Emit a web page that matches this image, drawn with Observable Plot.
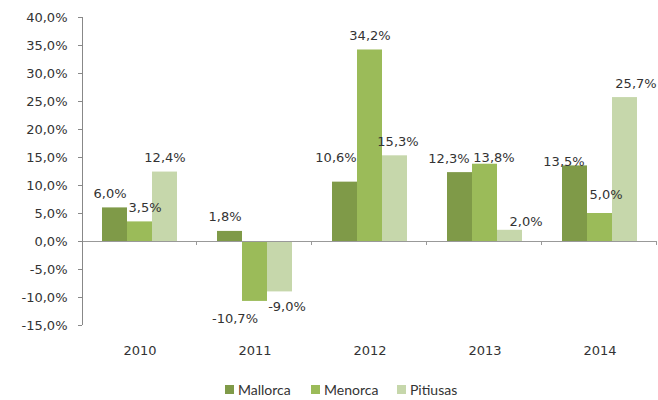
<!DOCTYPE html>
<html><head><meta charset="utf-8">
<script src="https://cdn.jsdelivr.net/npm/d3@7"></script>
<script src="https://cdn.jsdelivr.net/npm/@observablehq/plot@0.6"></script>
<style>
body{margin:0;background:#fff;}
#chart svg{display:block;}
.legend{display:flex;margin-left:225px;padding-top:6px;height:22px;align-items:center;font-family:Lato, sans-serif;font-size:14px;color:#333;}
.legend .item{display:flex;align-items:center;width:86px;}
.legend .sw{width:9px;height:9px;margin-right:4px;}
</style></head><body><div id="chart"></div>
<script>
const years = ["2010", "2011", "2012", "2013", "2014"];
const series = ["Mallorca", "Menorca", "Pitiusas"];
const mallorca = [6.0, 1.8, 10.6, 12.3, 13.5];
const menorca = [3.5, -10.7, 34.2, 13.8, 5.0];
const pitiusas = [12.4, -9.0, 15.3, 2.0, 25.7];
const colors = ["#7f9a48", "#9bbb59", "#c6d7ab"];
const yTicks = d3.range(-15, 41, 5);
// small label nudges (as placed in the original chart), in pixels
const labelDx = {Mallorca: [-5, -5, -9, -11, -11], Menorca: [5, -20, 0, 9, 6], Pitiusas: [0, 7, 3, 16, 11]};
const labelDy = {Mallorca: [0, 0, -10, 0, 10], Menorca: [0, 2, 0, 8, -5], Pitiusas: [0, 0, 0, 6, 0]};

const values = {Mallorca: mallorca, Menorca: menorca, Pitiusas: pitiusas};
const data = years.flatMap((yr, i) => series.map(s => ({year: yr, serie: s, value: values[s][i], i})));
const fmt = v => v.toFixed(1).replace(".", ",") + "%";
const pos = data.filter(d => d.value >= 0);
const neg = data.filter(d => d.value < 0);

const plot = Plot.plot({
  width: 658, height: 372,
  marginTop: 17, marginBottom: 47, marginLeft: 81, marginRight: 0,
  style: {fontFamily: "DejaVu Sans", fontSize: "13px", color: "#333", background: "#fff"},
  fx: {domain: years, padding: 0, label: null, axis: "bottom", tickSize: 0, tickPadding: 20},
  x: {domain: series, axis: null, paddingInner: 0, paddingOuter: 0.743},
  y: {domain: [-15, 40], ticks: yTicks, tickFormat: fmt, tickSize: 4, tickPadding: 11, label: null},
  color: {domain: series, range: colors},
  marks: [
    Plot.barY(data, {fx: "year", x: "serie", y: "value", fill: "serie"}),
    Plot.ruleY([0], {stroke: "#999"}),
    Plot.text(pos, {fx: "year", x: "serie", y: "value", text: d => fmt(d.value), lineAnchor: "bottom", dy: -10, fill: "#333", ariaDescription: "pos-labels"}),
    Plot.text(neg, {fx: "year", x: "serie", y: "value", text: d => fmt(d.value), lineAnchor: "top", dy: 10, fill: "#333", ariaDescription: "neg-labels"})
  ]
});

document.getElementById("chart").appendChild(plot);

const svg = d3.select(plot);
// nudge labels
[["pos-labels", pos], ["neg-labels", neg]].forEach(([desc, arr]) => {
  svg.selectAll(`[aria-description="${desc}"] text`).each(function(idx) {
    const d = arr[idx];
    if (!d) return;
    const dx = labelDx[d.serie][d.i], dy = labelDy[d.serie][d.i];
    const el = d3.select(this);
    const prev = el.attr("transform") || "";
    el.attr("transform", `translate(${dx},${dy}) ${prev}`);
  });
});

// axis styling via library scales
svg.selectAll('[aria-label^="y-axis"] line, [aria-label="y-axis tick"] path').attr("stroke", "#888");
const fx = plot.scale("fx");
const y = plot.scale("y");
const step = fx.apply(years[1]) - fx.apply(years[0]);
const x0 = fx.apply(years[0]);
const g = svg.append("g").attr("stroke", "#999");
g.append("line").attr("x1", x0 + 0.5).attr("x2", x0 + 0.5)
  .attr("y1", y.apply(40)).attr("y2", y.apply(-15)).attr("stroke", "#888");
years.forEach((yr) => {
  const bx = fx.apply(yr) + step;
  g.append("line").attr("x1", bx - 0.5).attr("x2", bx - 0.5)
    .attr("y1", y.apply(0)).attr("y2", y.apply(0) + 4);
});

// legend
const legend = d3.select("body").append("div").attr("class", "legend");
series.forEach((s, i) => {
  const it = legend.append("div").attr("class", "item");
  it.append("div").attr("class", "sw").style("background", colors[i]);
  it.append("span").text(s);
});
</script>
</body></html>
